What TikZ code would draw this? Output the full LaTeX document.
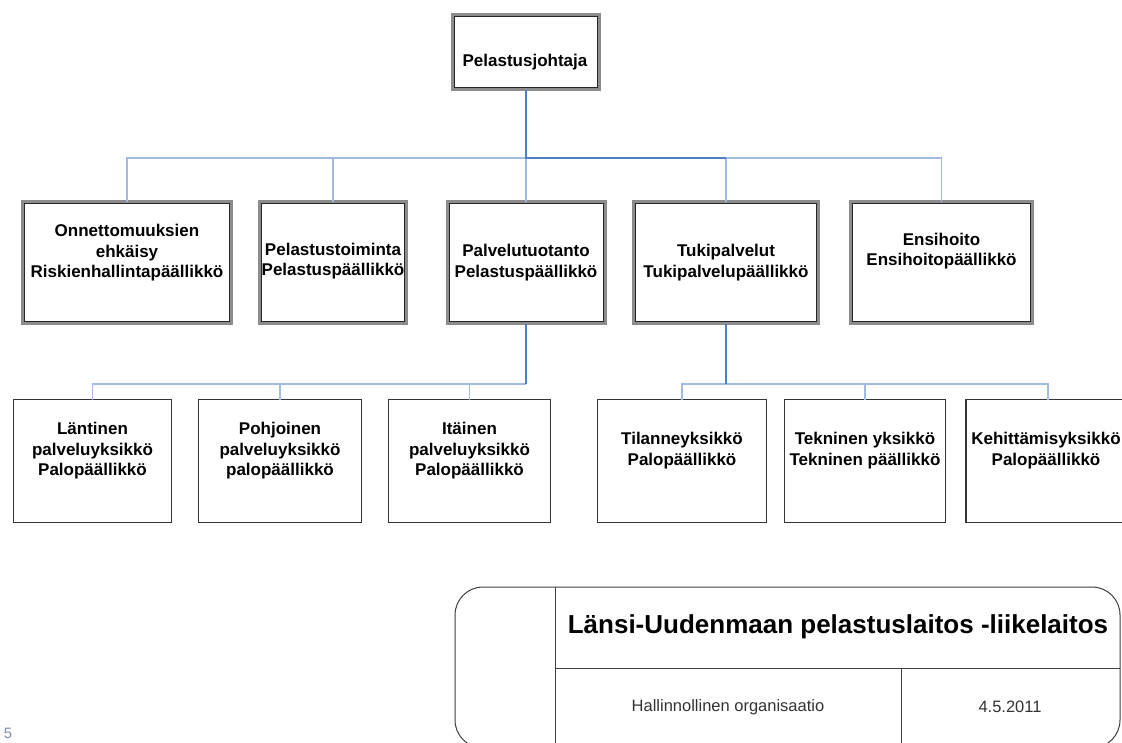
\documentclass[tikz,border=0pt]{standalone}
\usepackage{fontspec}
\setmainfont{Liberation Sans}
\usetikzlibrary{calc}

\definecolor{linklite}{RGB}{160,186,226}
\definecolor{linkdark}{RGB}{78,126,200}
\definecolor{pagenum}{RGB}{128,144,170}

\begin{document}
\begin{tikzpicture}[x=1pt,y=-1pt,
  headbox/.style={draw=black!45, line width=3pt, outer sep=0pt, inner sep=0pt, fill=white},
  headinner/.style={draw=black!85, line width=0.8pt},
  unitbox/.style={draw=black!80, line width=1.4pt, outer sep=0pt, inner sep=0pt, fill=white},
  lbl/.style={align=center, inner sep=0pt, font=\fontsize{17}{20.5}\selectfont\bfseries},
  lite/.style={draw=linklite, line width=1.3pt},
  dark/.style={draw=linkdark, line width=1.8pt},
  frameline/.style={draw=black!75, line width=1pt}]
\useasboundingbox (0,0) rectangle (1122,742);
\fill[white] (0,0) rectangle (1122,742);

% ---- top level ----
\node[headbox, minimum width=147, minimum height=75] (top) at (526,52) {};
\node[lbl] (top-t) at (525,62) {Pelastusjohtaja};

% ---- first level ----
\node[headbox, minimum width=209, minimum height=122] (riski)   at (127,262.5) {};
\node[headbox, minimum width=147, minimum height=122] (toimi)   at (333,262.5) {};
\node[headbox, minimum width=158, minimum height=122] (palvelu) at (526,262.5) {};
\node[headbox, minimum width=185, minimum height=122] (tuki)    at (726,262.5) {};
\node[headbox, minimum width=182, minimum height=122] (ensi)    at (941.5,262.5) {};

\foreach \n in {top,riski,toimi,palvelu,tuki,ensi}
  \draw[headinner] ([shift={(2,2)}]\n.north west) rectangle ([shift={(-2,-2)}]\n.south east);

\node[lbl] (riski-t)   at (127,253)   {Onnettomuuksien\\ehkäisy\\Riskienhallintapäällikkö};
\node[lbl] (toimi-t)   at (333,261)   {Pelastustoiminta\\Pelastuspäällikkö};
\node[lbl] (palvelu-t) at (526,262.5) {Palvelutuotanto\\Pelastuspäällikkö};
\node[lbl] (tuki-t)    at (726,262.5) {Tukipalvelut\\Tukipalvelupäällikkö};
\node[lbl] (ensi-t)    at (941.5,251) {Ensihoito\\Ensihoitopäällikkö};

% ---- second level ----
\node[unitbox, minimum width=158, minimum height=123] (lant)  at (92.5,461) {};
\node[unitbox, minimum width=163, minimum height=123] (pohj)  at (280,461) {};
\node[unitbox, minimum width=162, minimum height=123] (ita)   at (469.5,461) {};
\node[unitbox, minimum width=169, minimum height=123] (tilan) at (682,461) {};
\node[unitbox, minimum width=161, minimum height=123] (tekn)  at (865,461) {};
\node[unitbox, minimum width=164, minimum height=123] (kehit) at (1048,461) {};

\node[lbl] (lant-t)  at (92.5,451)  {Läntinen\\palveluyksikkö\\Palopäällikkö};
\node[lbl] (pohj-t)  at (280,451)   {Pohjoinen\\palveluyksikkö\\palopäällikkö};
\node[lbl] (ita-t)   at (469.5,451) {Itäinen\\palveluyksikkö\\Palopäällikkö};
\node[lbl] (tilan-t) at (682,450.5) {Tilanneyksikkö\\Palopäällikkö};
\node[lbl] (tekn-t)  at (865,450.5) {Tekninen yksikkö\\Tekninen päällikkö};
\node[lbl] (kehit-t) at (1046,450.5) {Kehittämisyksikkö\\Palopäällikkö};

% ---- connectors ----
\coordinate (busA) at (526,158);
\coordinate (busB) at (526,384);
\coordinate (busC) at (726,384);

\draw[lite] (riski.north) |- (busA);
\draw[lite] (toimi.north) |- (busA);
\draw[lite] (palvelu.north) -- (busA);
\draw[lite] (tuki.north) |- (busA);
\draw[lite] (ensi.north) |- (busA);
\draw[dark] (top.south) -- (busA) -- (busA -| tuki.north);

\draw[lite] (lant.north) |- (busB);
\draw[lite] (pohj.north) |- (busB);
\draw[lite] (ita.north) |- (busB);
\draw[dark] (palvelu.south) -- (busB);

\draw[lite] (tilan.north) |- (busC);
\draw[lite] (tekn.north) |- (busC);
\draw[lite] (kehit.north) |- (busC);
\draw[dark] (tuki.south) -- (busC);

% ---- title block ----
\draw[frameline, rounded corners=28] (455,587) rectangle (1120,748);
\draw[frameline] (555,587) -- (555,748);
\draw[frameline] (555,668) -- (1120,668);
\draw[frameline] (901,668) -- (901,748);
\node[inner sep=0pt, font=\fontsize{26}{30}\selectfont\bfseries] (org) at (838,627)
  {Länsi-Uudenmaan pelastuslaitos -liikelaitos};
\node[inner sep=0pt, text=black!80, font=\fontsize{16.5}{20}\selectfont] (kind) at (728,707)
  {Hallinnollinen organisaatio};
\node[inner sep=0pt, text=black!80, font=\fontsize{16.5}{20}\selectfont] (date) at (1010,707)
  {4.5.2011};

% ---- page number ----
\node[inner sep=0pt, text=pagenum, font=\fontsize{15}{18}\selectfont] (pg) at (8,733) {5};
\end{tikzpicture}
\end{document}
